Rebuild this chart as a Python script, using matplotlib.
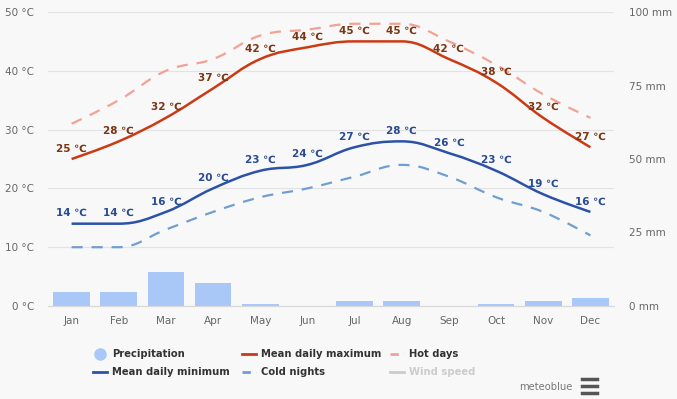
import matplotlib
matplotlib.use("Agg")
import matplotlib.pyplot as plt
from matplotlib.path import Path
from matplotlib.patches import PathPatch
from matplotlib.lines import Line2D

months = ["Jan", "Feb", "Mar", "Apr", "May", "Jun",
          "Jul", "Aug", "Sep", "Oct", "Nov", "Dec"]
mean_max = [25, 28, 32, 37, 42, 44, 45, 45, 42, 38, 32, 27]
mean_min = [14, 14, 16, 20, 23, 24, 27, 28, 26, 23, 19, 16]
hot_days = [31, 35, 40, 42, 46, 47, 48, 48, 45, 41, 36, 32]
cold_nights = [10, 10, 13, 16, 18.5, 20, 22, 24, 22, 18.5, 16, 12]
precipitation = [4.8, 4.8, 11.7, 7.9, 0.8, 0, 1.7, 1.7, 0, 0.7, 1.7, 2.8]

temp_ticks = [0, 10, 20, 30, 40, 50]
rain_ticks = [0, 25, 50, 75, 100]

BG = "#f8f8f8"
C_MAX = "#cc3a14"
C_HOT = "#f2a294"
C_MIN = "#2c52a8"
C_COLD = "#6f9fd2"
C_RAIN = "#a9c7f7"

W, H = 677, 399


def spline_path(xs, ys, smoothing=1.5):
    """Highcharts-like spline through the points, as a bezier Path."""
    denom = smoothing + 1
    n = len(xs)
    left = list(zip(xs, ys))
    right = list(zip(xs, ys))
    for i in range(1, n - 1):
        px, py = xs[i], ys[i]
        lx, ly = xs[i - 1], ys[i - 1]
        nx, ny = xs[i + 1], ys[i + 1]
        lcx = (smoothing * px + lx) / denom
        lcy = (smoothing * py + ly) / denom
        rcx = (smoothing * px + nx) / denom
        rcy = (smoothing * py + ny) / denom
        corr = (rcy - lcy) * (rcx - px) / (rcx - lcx) + py - rcy
        lcy += corr
        rcy += corr
        if lcy > ly and lcy > py:
            lcy = max(ly, py)
            rcy = 2 * py - lcy
        elif lcy < ly and lcy < py:
            lcy = min(ly, py)
            rcy = 2 * py - lcy
        if rcy > ny and rcy > py:
            rcy = max(ny, py)
            lcy = 2 * py - rcy
        elif rcy < ny and rcy < py:
            rcy = min(ny, py)
            lcy = 2 * py - rcy
        left[i] = (lcx, lcy)
        right[i] = (rcx, rcy)
    verts = [(xs[0], ys[0])]
    codes = [Path.MOVETO]
    for i in range(1, n):
        verts += [right[i - 1], left[i], (xs[i], ys[i])]
        codes += [Path.CURVE4] * 3
    return Path(verts, codes)


def fx(px):
    return px / W


def fy(py):
    return 1 - py / H


fig = plt.figure(figsize=(W / 100, H / 100), dpi=100, facecolor=BG)
ax = fig.add_axes([fx(48), fy(306), (614 - 48) / W, (306 - 12) / H])
ax2 = ax.twinx()
ax.set_zorder(ax2.get_zorder() + 1)
ax.patch.set_visible(False)
ax2.set_facecolor(BG)

x = list(range(len(months)))

# precipitation bars on the mm axis
ax2.bar(x, precipitation, width=0.78, color=C_RAIN, zorder=1)
ax2.set_ylim(0, 100)
ax2.set_yticks(rain_ticks)
ax2.set_yticklabels([f"{t} mm" for t in rain_ticks])
ax2.tick_params(axis="y", length=0, pad=11, labelsize=7.5, labelcolor="#666666")
for lbl in ax2.get_yticklabels():
    lbl.set_horizontalalignment("left")

# temperature lines
for series, color, style in [
    (hot_days, C_HOT, (0, (5, 4))),
    (cold_nights, C_COLD, (0, (5, 4))),
    (mean_max, C_MAX, "-"),
    (mean_min, C_MIN, "-"),
]:
    ax.add_patch(PathPatch(spline_path(x, series), fill=False, ec=color,
                           lw=1.8 if style == "-" else 1.6, ls=style,
                           capstyle="butt", zorder=3))

for series, color in [(mean_max, "#7b3512"), (mean_min, "#2a4a92")]:
    for xi, v in zip(x, series):
        ax.annotate(f"{v} \u2103", (xi, v), xytext=(0, 4),
                    textcoords="offset points", ha="center", va="bottom",
                    fontsize=7.5, fontweight="bold", color=color, zorder=4)

ax.set_xlim(-0.5, len(months) - 0.5)
ax.set_ylim(0, 50)
ax.set_yticks(temp_ticks)
ax.set_yticklabels([f"{t} °C" for t in temp_ticks])
ax.set_xticks(x)
ax.set_xticklabels(months)
ax.tick_params(axis="y", length=0, pad=10, labelsize=7.5, labelcolor="#666666")
ax.tick_params(axis="x", length=0, pad=7, labelsize=7.5, labelcolor="#666666")
ax.grid(axis="y", color="#e3e3e3", lw=0.8)
ax.set_axisbelow(True)
for a in (ax, ax2):
    for side in ("top", "left", "right"):
        a.spines[side].set_visible(False)
    a.spines["bottom"].set_color("#d8d8d8")
    a.spines["bottom"].set_linewidth(0.8)

# legend, laid out like the original two rows
legend_rows = [
    [("circle", C_RAIN, "Precipitation", 93, "#333333"),
     ("-", C_MAX, "Mean daily maximum", 242, "#333333"),
     ("dash", C_HOT, "Hot days", 390, "#333333")],
    [("-", C_MIN, "Mean daily minimum", 93, "#333333"),
     ("dash", C_COLD, "Cold nights", 242, "#333333"),
     ("-", "#cccccc", "Wind speed", 390, "#cccccc")],
]
for row_y, row in zip([354, 372], legend_rows):
    for kind, color, label, x0, tcolor in row:
        if kind == "circle":
            fig.add_artist(Line2D([fx(x0 + 7)], [fy(row_y)], marker="o",
                                  markersize=8, color=color, lw=0))
        elif kind == "dash":
            fig.add_artist(Line2D([fx(x0), fx(x0 + 14)], [fy(row_y)] * 2,
                                  color=color, lw=2, ls=(0, (3, 2, 1, 2))))
        else:
            fig.add_artist(Line2D([fx(x0), fx(x0 + 14)], [fy(row_y)] * 2,
                                  color=color, lw=2))
        fig.text(fx(x0 + 19), fy(row_y), label, family="DejaVu Sans",
                 fontstretch="condensed", fontsize=8, fontweight="bold",
                 color=tcolor, ha="left", va="center")

fig.text(fx(573), fy(387), "meteoblue", fontsize=8, color="#777777",
         ha="right", va="center", fontstretch="condensed")
for yy in (379, 386, 393):
    fig.add_artist(Line2D([fx(582), fx(597)], [fy(yy)] * 2,
                          color="#555555", lw=2.5))

fig.savefig("out.png", dpi=100, facecolor=BG)
